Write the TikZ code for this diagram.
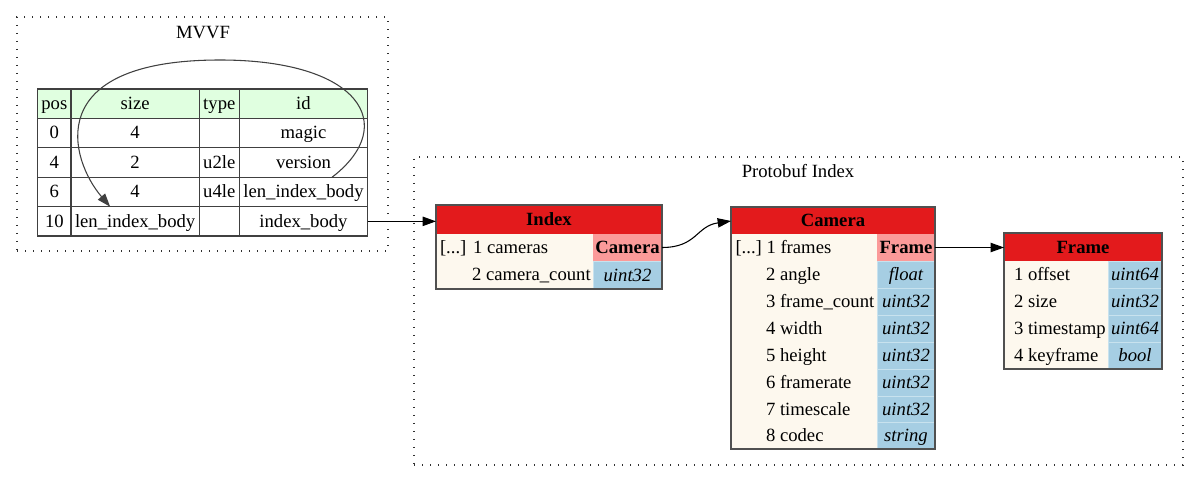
\documentclass[tikz,border=0pt]{standalone}
\usepackage{fontspec}
\setmainfont{Liberation Serif}
\usetikzlibrary{arrows.meta,calc}
\definecolor{hdrred}{HTML}{E31A1C}
\definecolor{pinkc}{HTML}{FB9A99}
\definecolor{bluec}{HTML}{A6CEE3}
\definecolor{creamc}{HTML}{FDF8EE}
\definecolor{greenh}{HTML}{E0FFE0}
\definecolor{gridc}{HTML}{404040}
\definecolor{nodeb}{HTML}{505050}
\definecolor{sepc}{HTML}{C8E2EE}
\definecolor{dotc}{HTML}{303030}
\newcommand\mkcell[7]{\node[#6, minimum width={((#4)-(#2))*0.75pt}, minimum height={((#5)-(#3))*0.75pt}] (#1) at ({((#2)+(#4))/2},{((#3)+(#5))/2}) {#7};}
\tikzset{
  every node/.style={font=\fontsize{14}{16}\selectfont, inner sep=0pt, outer sep=0pt},
  tt/.style={text height=10.8pt, text depth=1.8pt},
  cluster/.style={draw=dotc, line width=0.8pt, dash pattern=on 0.8pt off 5.2pt},
  mv/.style={tt, draw=gridc, line width=1.1pt},
  mvh/.style={mv, fill=greenh},
  hdr/.style={tt, fill=hdrred, font=\fontsize{14}{16}\selectfont\bfseries},
  bodyc/.style={fill=creamc},
  pinkcell/.style={tt, fill=pinkc, font=\fontsize{14}{16}\selectfont\bfseries},
  bluecell/.style={tt, fill=bluec, draw=sepc, line width=0.5pt, font=\fontsize{14}{16}\selectfont\itshape},
  outline/.style={draw=nodeb, line width=1.3pt},
  lbl/.style={tt, anchor=west},
  edge/.style={line width=0.8pt, -{Triangle[length=10pt,width=7pt]}},
  selfedge/.style={draw=gridc, line width=0.8pt, -{Triangle[length=10pt,width=7pt]}}
}
\begin{document}
\begin{tikzpicture}[x=0.75pt,y=-0.75pt]
\useasboundingbox (0,0) rectangle (1199,481);
\fill[white] (0,0) rectangle (1199,481);

% ---------- MVVF cluster ----------
\mkcell{mvvf}{17}{17}{388}{251}{cluster}{}
\node[tt] (mvvft) at (203,32.3) {MVVF};

% header
\mkcell{m0c0}{37.7}{89}{71}{118.3}{mvh}{pos}
\mkcell{m0c1}{71}{89}{199.3}{118.3}{mvh}{size}
\mkcell{m0c2}{199.3}{89}{239.3}{118.3}{mvh}{type}
\mkcell{m0c3}{239.3}{89}{367.7}{118.3}{mvh}{id}
% row 1
\mkcell{m1c0}{37.7}{118.3}{71}{147.7}{mv}{0}
\mkcell{m1c1}{71}{118.3}{199.3}{147.7}{mv}{4}
\mkcell{m1c2}{199.3}{118.3}{239.3}{147.7}{mv}{}
\mkcell{m1c3}{239.3}{118.3}{367.7}{147.7}{mv}{magic}
% row 2
\mkcell{m2c0}{37.7}{147.7}{71}{177.3}{mv}{4}
\mkcell{m2c1}{71}{147.7}{199.3}{177.3}{mv}{2}
\mkcell{m2c2}{199.3}{147.7}{239.3}{177.3}{mv}{u2le}
\mkcell{ver}{239.3}{147.7}{367.7}{177.3}{mv}{version}
% row 3
\mkcell{m3c0}{37.7}{177.3}{71}{206.7}{mv}{6}
\mkcell{m3c1}{71}{177.3}{199.3}{206.7}{mv}{4}
\mkcell{m3c2}{199.3}{177.3}{239.3}{206.7}{mv}{u4le}
\mkcell{m3c3}{239.3}{177.3}{367.7}{206.7}{mv}{len\_index\_body}
% row 4
\mkcell{m4c0}{37.7}{206.7}{71}{236}{mv}{10}
\mkcell{lsz}{71}{206.7}{199.3}{236}{mv}{len\_index\_body}
\mkcell{m4c2}{199.3}{206.7}{239.3}{236}{mv}{}
\mkcell{ib}{239.3}{206.7}{367.7}{236}{mv}{index\_body}

% self edge
\draw[selfedge] ($(ver.south)+(28.5,0)$) .. controls (400,125) and (360,60) .. (220,60)
  .. controls (40,60) and (70,160) .. ($(lsz.north)+(-25,0)$);

% ---------- Protobuf cluster ----------
\mkcell{pbuf}{414}{157}{1183}{465}{cluster}{}
\node[tt] (pbuft) at (798,172) {Protobuf Index};

% Index node
\mkcell{idxb}{436}{234}{662}{289}{bodyc}{}
\mkcell{idxh}{436}{205}{662}{234}{hdr}{Index}
\mkcell{idxt1}{593}{234}{662}{261}{pinkcell}{Camera}
\mkcell{idxt2}{593}{261}{662}{289}{bluecell}{uint32}
\node[lbl] (idxd1) at (440,247.5) {[...]};
\node[lbl] (idxn1) at (473,247.5) {1 cameras};
\node[lbl] (idxn2) at (472,274.5) {2 camera\_count};
\mkcell{idx}{436}{205}{662}{289}{outline}{}

% Camera node
\mkcell{camb}{731}{234}{935}{449}{bodyc}{}
\mkcell{camh}{731}{207}{935}{234}{hdr}{Camera}
\mkcell{camt1}{877}{234}{935}{261}{pinkcell}{Frame}
\mkcell{camt2}{877}{261}{935}{288}{bluecell}{float}
\mkcell{camt3}{877}{288}{935}{315}{bluecell}{uint32}
\mkcell{camt4}{877}{315}{935}{342}{bluecell}{uint32}
\mkcell{camt5}{877}{342}{935}{369}{bluecell}{uint32}
\mkcell{camt6}{877}{369}{935}{396}{bluecell}{uint32}
\mkcell{camt7}{877}{396}{935}{422.5}{bluecell}{uint32}
\mkcell{camt8}{877}{422.5}{935}{449}{bluecell}{string}
\node[lbl] (camd1) at (735.5,247.5) {[...]};
\node[lbl] (camn1) at (766.5,247.5) {1 frames};
\node[lbl] (camn2) at (766,274.5) {2 angle};
\node[lbl] (camn3) at (766,301.5) {3 frame\_count};
\node[lbl] (camn4) at (766,328.5) {4 width};
\node[lbl] (camn5) at (766,355.5) {5 height};
\node[lbl] (camn6) at (766,382.5) {6 framerate};
\node[lbl] (camn7) at (766,409.2) {7 timescale};
\node[lbl] (camn8) at (766,435.8) {8 codec};
\mkcell{cam}{731}{207}{935}{449}{outline}{}

% Frame node
\mkcell{frb}{1004}{261}{1162}{369}{bodyc}{}
\mkcell{frh}{1004}{233}{1162}{261}{hdr}{Frame}
\mkcell{frt1}{1108}{261}{1162}{288}{bluecell}{uint64}
\mkcell{frt2}{1108}{288}{1162}{315}{bluecell}{uint32}
\mkcell{frt3}{1108}{315}{1162}{342}{bluecell}{uint64}
\mkcell{frt4}{1108}{342}{1162}{369}{bluecell}{bool}
\node[lbl] (frn1) at (1014,274.5) {1 offset};
\node[lbl] (frn2) at (1014,301.5) {2 size};
\node[lbl] (frn3) at (1014,328.5) {3 timestamp};
\node[lbl] (frn4) at (1014,355.5) {4 keyframe};
\mkcell{fr}{1004}{233}{1162}{369}{outline}{}

% edges
\draw[edge] (ib.east) -- (ib.east -| idx.west);
\draw[edge] (idxt1.east) .. controls +(35,0) and +(-35,5) .. ($(camh.west)+(0,0.5)$);
\draw[edge] (camt1.east) -- (camt1.east -| fr.west);
\end{tikzpicture}
\end{document}
